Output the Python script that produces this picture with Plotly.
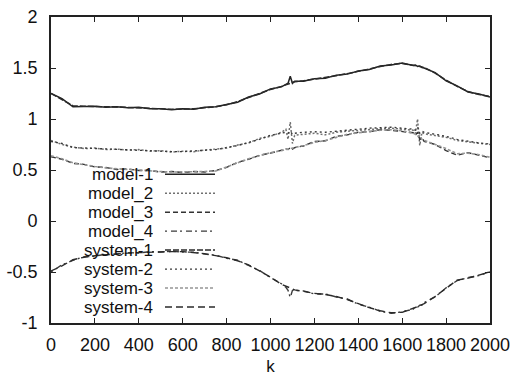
import plotly.graph_objects as go

K = [0, 50, 100, 150, 200, 250, 300, 350, 400, 450, 500, 550, 600, 650, 700, 750,
     800, 850, 900, 950, 1000, 1050, 1070, 1080, 1090, 1100, 1110, 1150, 1200, 1250,
     1300, 1350, 1400, 1450, 1500, 1550, 1600, 1650, 1660, 1670, 1680, 1690, 1700,
     1750, 1800, 1850, 1900, 1950, 2000]

model_1 = [1.25, 1.20, 1.12, 1.12, 1.125, 1.115, 1.12, 1.11, 1.115, 1.10, 1.10, 1.09, 1.10, 1.095, 1.115,
           1.12, 1.145, 1.165, 1.215, 1.245, 1.295, 1.315, 1.34, 1.35, 1.42, 1.35, 1.37, 1.37, 1.395, 1.40,
           1.43, 1.44, 1.47, 1.485, 1.52, 1.53, 1.55, 1.525, 1.53, 1.515, 1.52, 1.505, 1.50, 1.455, 1.375,
           1.325, 1.265, 1.245, 1.215]
system_1 = [1.25, 1.19, 1.13, 1.125, 1.12, 1.12, 1.118, 1.115, 1.11, 1.105, 1.10, 1.095, 1.095, 1.10, 1.11,
            1.12, 1.14, 1.17, 1.21, 1.25, 1.29, 1.32, 1.335, 1.345, 1.355, 1.36, 1.365, 1.375, 1.39, 1.405,
            1.425, 1.445, 1.465, 1.49, 1.515, 1.535, 1.545, 1.53, 1.525, 1.52, 1.515, 1.51, 1.505, 1.45, 1.38,
            1.32, 1.27, 1.24, 1.22]
model_2 = [0.79, 0.75, 0.725, 0.71, 0.715, 0.70, 0.705, 0.695, 0.70, 0.685, 0.69, 0.675, 0.685, 0.68, 0.695,
           0.705, 0.715, 0.745, 0.765, 0.81, 0.83, 0.87, 0.90, 0.80, 0.97, 0.76, 0.84, 0.85, 0.86, 0.845,
           0.87, 0.88, 0.89, 0.90, 0.905, 0.91, 0.90, 0.89, 0.86, 1.0, 0.74, 0.87, 0.855, 0.84, 0.82,
           0.79, 0.775, 0.76, 0.75]
system_2 = [0.78, 0.76, 0.72, 0.715, 0.71, 0.705, 0.70, 0.70, 0.695, 0.69, 0.685, 0.68, 0.68, 0.685, 0.69,
            0.70, 0.72, 0.74, 0.77, 0.80, 0.84, 0.86, 0.87, 0.86, 0.88, 0.85, 0.86, 0.87, 0.875, 0.87,
            0.88, 0.895, 0.905, 0.91, 0.915, 0.92, 0.91, 0.90, 0.89, 0.92, 0.86, 0.88, 0.87, 0.85, 0.83,
            0.80, 0.78, 0.765, 0.755]
model_3 = [0.63, 0.605, 0.565, 0.555, 0.53, 0.525, 0.505, 0.51, 0.495, 0.495, 0.48, 0.485, 0.475, 0.485, 0.48,
           0.495, 0.525, 0.575, 0.605, 0.645, 0.665, 0.695, 0.705, 0.70, 0.72, 0.705, 0.72, 0.735, 0.78, 0.785,
           0.83, 0.845, 0.87, 0.875, 0.895, 0.89, 0.88, 0.865, 0.84, 0.87, 0.80, 0.82, 0.78, 0.75, 0.69,
           0.645, 0.67, 0.645, 0.62]
system_3 = [0.64, 0.61, 0.57, 0.55, 0.535, 0.52, 0.51, 0.505, 0.50, 0.49, 0.485, 0.48, 0.48, 0.48, 0.485,
            0.49, 0.53, 0.57, 0.61, 0.64, 0.67, 0.69, 0.70, 0.705, 0.71, 0.71, 0.715, 0.74, 0.77, 0.79,
            0.82, 0.85, 0.865, 0.88, 0.89, 0.895, 0.885, 0.86, 0.85, 0.83, 0.84, 0.80, 0.79, 0.75, 0.71,
            0.66, 0.665, 0.65, 0.625]
model_4 = [-0.50, -0.43, -0.385, -0.35, -0.345, -0.325, -0.325, -0.31, -0.315, -0.30, -0.305, -0.295, -0.305,
           -0.305, -0.325, -0.335, -0.365, -0.385, -0.435, -0.485, -0.555, -0.615, -0.65, -0.68, -0.75, -0.68,
           -0.68, -0.685, -0.715, -0.715, -0.745, -0.765, -0.815, -0.845, -0.885, -0.905, -0.89, -0.865, -0.84,
           -0.845, -0.825, -0.825, -0.80, -0.745, -0.655, -0.585, -0.555, -0.535, -0.495]
system_4 = [-0.49, -0.44, -0.38, -0.355, -0.34, -0.33, -0.32, -0.315, -0.31, -0.305, -0.30, -0.30, -0.30,
            -0.31, -0.32, -0.34, -0.36, -0.39, -0.43, -0.49, -0.55, -0.62, -0.64, -0.65, -0.66, -0.67,
            -0.675, -0.69, -0.71, -0.72, -0.74, -0.77, -0.81, -0.85, -0.88, -0.90, -0.895, -0.86, -0.85,
            -0.84, -0.83, -0.82, -0.81, -0.74, -0.66, -0.58, -0.56, -0.53, -0.50]

series_names = ["model-1", "model_2", "model_3", "model_4",
                "system-1", "system-2", "system-3", "system-4"]
series_values = [model_1, model_2, model_3, model_4,
                 system_1, system_2, system_3, system_4]

x_ticks = [0, 200, 400, 600, 800, 1000, 1200, 1400, 1600, 1800, 2000]
y_ticks = [-1, -0.5, 0, 0.5, 1, 1.5, 2]
y_tick_labels = ["-1", "-0.5", "0", "0.5", "1", "1.5", "2"]

styles = [
    dict(color="#222222", dash="solid", width=1.5),
    dict(color="#707070", dash="2px,2px", width=1.5),
    dict(color="#333333", dash="5px,3px", width=1.4),
    dict(color="#3a3a3a", dash="2px,4px,6px,3px", width=1.4),
    dict(color="#2a2a2a", dash="6px,2px", width=1.5),
    dict(color="#3a3a3a", dash="2px,3px", width=1.4),
    dict(color="#959595", dash="3px,2px", width=1.6),
    dict(color="#2a2a2a", dash="7px,4px", width=1.4),
]

FONT = "Liberation Sans, Arial, Helvetica, sans-serif"
TXT = "#111111"

fig = go.Figure()
for name, vals, st in zip(series_names, series_values, styles):
    fig.add_trace(go.Scatter(x=K, y=vals, mode="lines", name=name, line=st,
                             showlegend=False))

# gnuplot-style legend: right-aligned text followed by line sample
L, R, T, B = 51, 490, 16.5, 323.0
W, H = R - L, B - T
row_py = [174, 193, 212, 231, 250, 269, 288, 307]
for name, st, py in zip(series_names, styles, row_py):
    yp = (B - py) / H
    fig.add_annotation(x=(154 - L) / W, y=yp, xref="paper", yref="paper",
                       text=name, showarrow=False, xanchor="right", yanchor="middle",
                       height=19, borderpad=0,
                       font=dict(family=FONT, size=17, color=TXT))
    fig.add_shape(type="line", xref="paper", yref="paper",
                  x0=(165 - L) / W, x1=(215 - L) / W, y0=yp, y1=yp,
                  line=st)

axis_common = dict(showline=True, linecolor="#222222", linewidth=1.6, mirror="ticks",
                   ticks="inside", ticklen=5, tickwidth=1.2, tickcolor="#222222",
                   showgrid=False, zeroline=False, automargin=False,
                   ticklabeloverflow="allow",
                   tickfont=dict(family=FONT, size=18, color=TXT))

fig.update_xaxes(range=[0, 2000], tickvals=x_ticks, ticktext=[str(v) for v in x_ticks],
                 title=dict(text="k", font=dict(family=FONT, size=17, color=TXT), standoff=17),
                 ticklabelstandoff=5, **axis_common)
fig.update_yaxes(range=[-1, 2], tickvals=y_ticks, ticktext=y_tick_labels,
                 ticklabelstandoff=8, **axis_common)

fig.update_layout(width=510, height=376,
                  margin=dict(l=L, r=510 - R, t=T, b=376 - B, autoexpand=False),
                  paper_bgcolor="white", plot_bgcolor="white",
                  font=dict(family=FONT, size=17, color=TXT))

fig.write_html("out.html", config={"displayModeBar": False},
               post_script="document.body.style.margin='0px';document.body.style.overflow='hidden';")
